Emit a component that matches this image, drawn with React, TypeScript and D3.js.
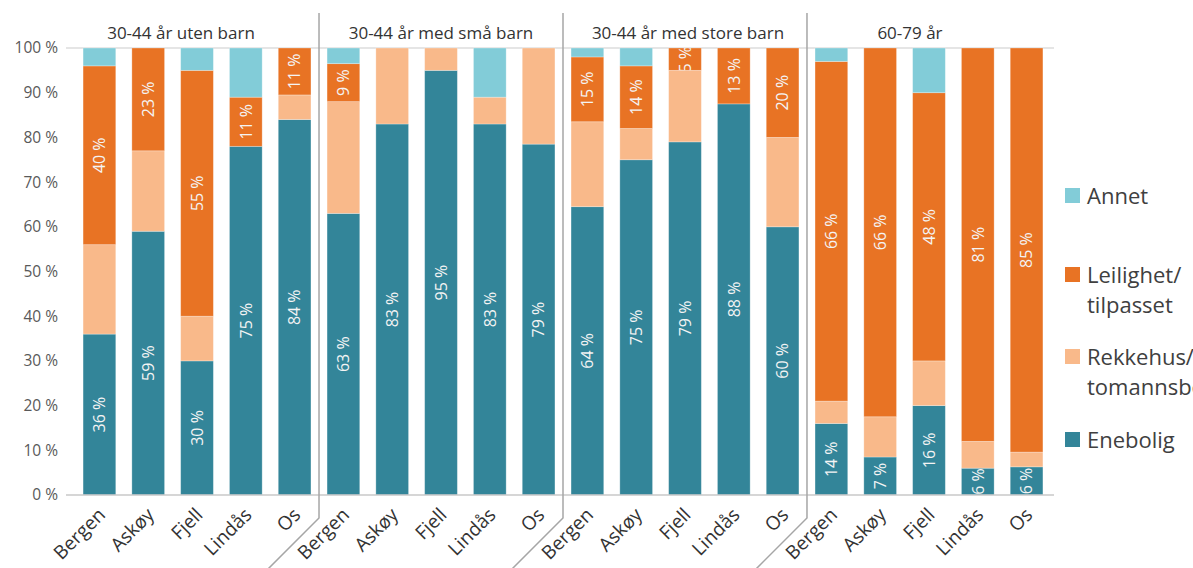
import React from 'react';
import * as d3 from 'd3';

// groups and municipalities
const groups = ['30-44 år uten barn', '30-44 år med små barn', '30-44 år med store barn', '60-79 år'];
const places = ['Bergen', 'Askøy', 'Fjell', 'Lindås', 'Os'];

// shares in % per bar (group by group, place by place)
const enebolig = [36, 59, 30, 78, 84, 63, 83, 95, 83, 78.5, 64.5, 75, 79, 87.5, 60, 16, 8.5, 20, 6, 6.3];
const rekkehus = [20, 18, 10, 0, 5.5, 25, 17, 5, 6, 21.5, 19, 7, 16, 0, 20, 5, 9, 10, 6, 3.3];
const leilighet = [40, 23, 55, 11, 10.5, 8.5, 0, 0, 0, 0, 14.5, 14, 5, 12.5, 20, 76, 82.5, 60, 88, 90.4];
const annet = [4, 0, 5, 11, 0, 3.5, 0, 0, 11, 0, 2, 4, 0, 0, 0, 3, 0, 10, 0, 0];

// the numbers printed on the bars
const eneboligLabels = [36, 59, 30, 75, 84, 63, 83, 95, 83, 79, 64, 75, 79, 88, 60, 14, 7, 16, 6, 6];
const leilighetLabels = [40, 23, 55, 11, 11, 9, null, null, null, null, 15, 14, 5, 13, 20, 66, 66, 48, 81, 85];

const yTicks = [0, 10, 20, 30, 40, 50, 60, 70, 80, 90, 100];

const keys = ['enebolig', 'rekkehus', 'leilighet', 'annet'];
const colors: Record<string, string> = {
  enebolig: '#338599',
  rekkehus: '#f9b98a',
  leilighet: '#e87324',
  annet: '#82ccd8',
};
const legend = [
  { key: 'annet', lines: ['Annet'] },
  { key: 'leilighet', lines: ['Leilighet/', 'tilpasset'] },
  { key: 'rekkehus', lines: ['Rekkehus/', 'tomannsbolig'] },
  { key: 'enebolig', lines: ['Enebolig'] },
];
const legendTop = [188, 267, 349, 432];
const titleShift = [-16, 0, 3, -19];

const font = '"Open Sans", "Noto Sans", sans-serif';

const App = () => {
  const width = 1193;
  const height = 568;

  const rows = enebolig.map((_, i) => ({
    enebolig: enebolig[i],
    rekkehus: rekkehus[i],
    leilighet: leilighet[i],
    annet: annet[i],
  }));
  const stacked = d3.stack<any>().keys(keys)(rows);

  const x = d3.scaleBand<number>()
    .domain(d3.range(rows.length))
    .range([66, 1060])
    .paddingInner(0.33)
    .paddingOuter(0.35);
  const bw = x.bandwidth();

  const y = d3.scaleLinear().domain([0, 100]).range([495, 48]);

  const labelFor = (key: string, i: number) => {
    if (key === 'enebolig') return eneboligLabels[i];
    if (key === 'leilighet') return leilighetLabels[i];
    return null;
  };

  const n = places.length;
  const separators = d3.range(1, groups.length).map(g => {
    const a = (x(g * n - 1) as number) + bw;
    const b = x(g * n) as number;
    return (a + b) / 2;
  });

  return (
    <svg
      width={width}
      height={height}
      style={{ position: 'absolute', left: 0, top: 0, background: '#fff', fontFamily: font }}
    >
      <defs>
        {stacked.map(s =>
          s.map((d, i) => (
            <clipPath id={`c-${s.key}-${i}`} key={`${s.key}-${i}`}>
              <rect x={x(i)} y={y(d[1])} width={bw} height={Math.max(0, y(d[0]) - y(d[1]))} />
            </clipPath>
          ))
        )}
      </defs>

      {/* top line */}
      <line x1={66} x2={1054} y1={y(100)} y2={y(100)} stroke="#dcdcdc" strokeWidth={1.5} />

      {/* y axis labels */}
      {yTicks.map(t => (
        <text key={t} x={58} y={y(t)} dy="0.35em" textAnchor="end" fontSize={15.5} fill="#595959">
          {`${t} %`}
        </text>
      ))}

      {/* bars */}
      {stacked.map(s => (
        <g key={s.key} fill={colors[s.key]}>
          {s.map((d, i) =>
            d[1] - d[0] > 0 ? (
              <rect
                key={i}
                x={x(i)}
                y={y(d[1])}
                width={bw}
                height={y(d[0]) - y(d[1])}
                stroke="rgba(255,255,255,0.35)"
                strokeWidth={0.8}
              />
            ) : null
          )}
        </g>
      ))}

      {/* value labels */}
      {stacked.map(s =>
        s.map((d, i) => {
          const v = labelFor(s.key, i);
          if (v == null || d[1] - d[0] <= 0) return null;
          const cx = (x(i) as number) + bw / 2;
          const cy = (y(d[0]) + y(d[1])) / 2;
          return (
            <g key={`${s.key}-l-${i}`} clipPath={`url(#c-${s.key}-${i})`}>
              <text
                transform={`translate(${cx},${cy}) rotate(-90)`}
                textAnchor="middle"
                dy="0.36em"
                fontSize={16}
                fill="#f4f4f4"
              >
                {`${v} %`}
              </text>
            </g>
          );
        })
      )}

      {/* baseline */}
      <line x1={66} x2={1054} y1={y(0)} y2={y(0)} stroke="#c8c8c8" strokeWidth={1.5} />

      {/* group separators */}
      {separators.map((sx, i) => (
        <path
          key={i}
          d={`M${sx},13 V518 L${sx - 56},574`}
          fill="none"
          stroke="#a6a6a6"
          strokeWidth={1.5}
        />
      ))}

      {/* group titles */}
      {groups.map((g, gi) => {
        const a = x(gi * n) as number;
        const b = (x(gi * n + n - 1) as number) + bw;
        return (
          <text key={g} x={(a + b) / 2 + titleShift[gi]} y={39} textAnchor="middle" fontSize={17} fill="#333">
            {g}
          </text>
        );
      })}

      {/* x labels */}
      {rows.map((_, i) => {
        const cx = (x(i) as number) + bw / 2;
        return (
          <text
            key={i}
            transform={`translate(${cx + 7},${516}) rotate(-45)`}
            textAnchor="end"
            fontSize={19}
            fill="#333"
          >
            {places[i % n]}
          </text>
        );
      })}

      {/* legend */}
      {legend.map((l, li) => (
        <g key={l.key} transform={`translate(1065,${legendTop[li]})`}>
          <rect width={15} height={15} fill={colors[l.key]} />
          {l.lines.map((t, ti) => (
            <text key={t} x={22} y={16 + ti * 30} fontSize={22} fill="#404040">
              {t}
            </text>
          ))}
        </g>
      ))}
    </svg>
  );
};

export default App;
